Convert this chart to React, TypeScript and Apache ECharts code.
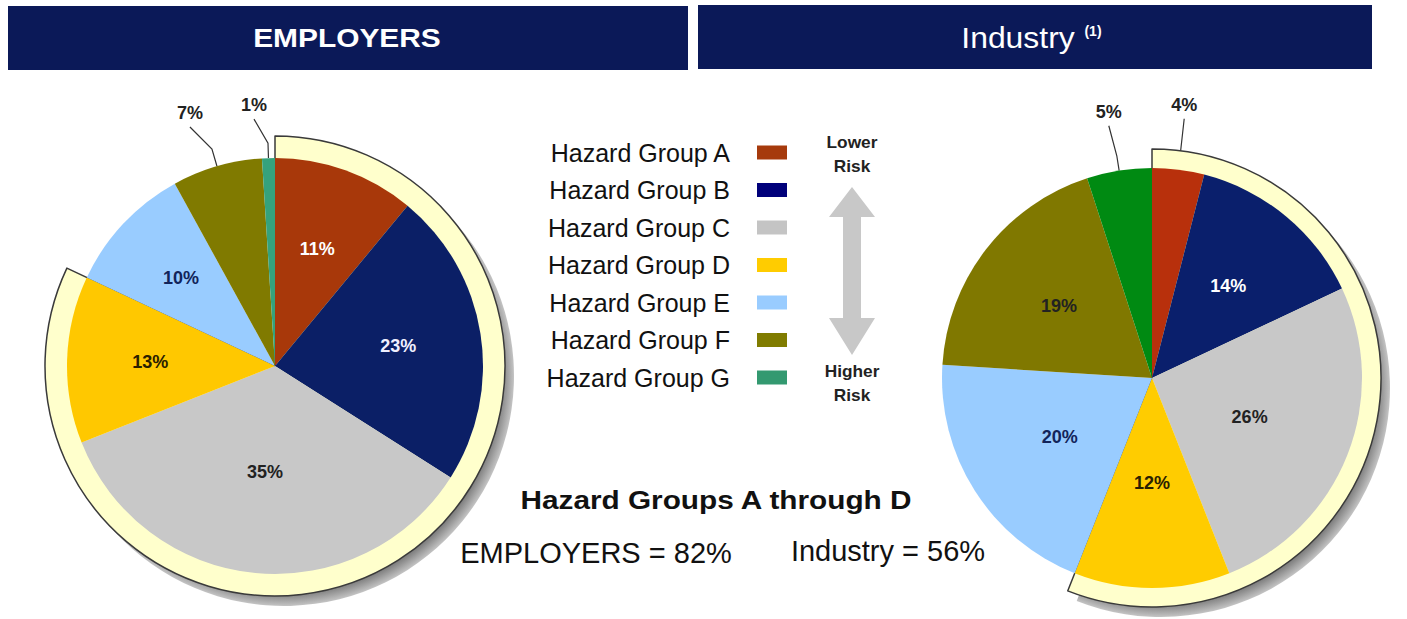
import React, { useEffect, useRef } from "react";
import * as echarts from "echarts";

// ---------- data ----------
const groupNames = [
  "Hazard Group A",
  "Hazard Group B",
  "Hazard Group C",
  "Hazard Group D",
  "Hazard Group E",
  "Hazard Group F",
  "Hazard Group G",
];
const employersValues = [11, 23, 35, 13, 10, 7, 1];
const industryValues = [4, 14, 26, 12, 20, 19, 5];
const highlightedCount = 4; // Hazard Groups A through D
const panelTitles = ["EMPLOYERS", "Industry"];
const footnoteMark = "(1)";
const riskTop = ["Lower", "Risk"];
const riskBottom = ["Higher", "Risk"];
const summaryTitle = "Hazard Groups A through D";

// ---------- styles ----------
const FONT = '"Liberation Sans", Arial, Helvetica, sans-serif';
const NAVY = "#0b1958";
const legendColors = ["#a63a0c", "#00007a", "#c4c4c4", "#ffcc00", "#99ccff", "#807c00", "#339970"];
const employersColors = ["#a8380a", "#0b1f66", "#c8c8c8", "#ffc800", "#99ccff", "#807a00", "#35a27c"];
const industryColors = ["#b8300c", "#0a1f6c", "#c8c8c8", "#ffcc00", "#99ccff", "#807800", "#008a12"];
const employersLabelColors = ["#ffffff", "#f0f0ff", "#222222", "#2a2000", "#12245a", "#222222", "#222222"];
const industryLabelColors = ["#222222", "#ffffff", "#222222", "#2a2000", "#12245a", "#222222", "#222222"];

type OutsideCfg = { length: number; length2: number; rise: number };
type PieLayout = {
  cx: number;
  cy: number;
  r: number;
  ringR: number;
  insideFactor: (number | null)[];
  outside: Record<number, OutsideCfg>;
};

const employersLayout: PieLayout = {
  cx: 275,
  cy: 366,
  r: 208,
  ringR: 230,
  insideFactor: [0.6, 0.6, 0.51, 0.6, 0.62, null, null],
  outside: {
    5: { length: 18, length2: 22, rise: 22 },
    6: { length: 15, length2: 14, rise: 24 },
  },
};
const industryLayout: PieLayout = {
  cx: 1152,
  cy: 378,
  r: 210,
  ringR: 229,
  insideFactor: [null, 0.57, 0.5, 0.5, 0.52, 0.56, null],
  outside: {
    0: { length: 15, length2: 4, rise: 36 },
    6: { length: 15, length2: 8, rise: 30 },
  },
};

const sum = (a: number[]) => a.reduce((s, v) => s + v, 0);

function buildPieSeries(values: number[], colors: string[], labelColors: string[], L: PieLayout) {
  const total = sum(values);
  const highlighted = sum(values.slice(0, highlightedCount));
  const mids: number[] = [];
  let acc = 0;
  values.forEach((v) => {
    mids.push(((acc + v / 2) / total) * 360);
    acc += v;
  });

  const shadow = {
    type: "pie",
    silent: true,
    center: [L.cx + 9, L.cy + 10],
    radius: L.ringR,
    startAngle: 90,
    clockwise: true,
    label: { show: false },
    labelLine: { show: false },
    emphasis: { disabled: true },
    itemStyle: { borderWidth: 0 },
    data: [
      {
        value: highlighted,
        itemStyle: {
          color: {
            type: "radial",
            x: L.cx + 9,
            y: L.cy + 10,
            r: L.ringR,
            global: true,
            colorStops: [
              { offset: 0.92, color: "#5e5e5e" },
              { offset: 1, color: "#c4c4c4" },
            ],
          },
        },
      },
      { value: total - highlighted, itemStyle: { color: "rgba(0,0,0,0)" } },
    ],
  };

  const ring = {
    type: "pie",
    silent: true,
    center: [L.cx, L.cy],
    radius: L.ringR,
    startAngle: 90,
    clockwise: true,
    label: { show: false },
    labelLine: { show: false },
    emphasis: { disabled: true },
    data: [
      { value: highlighted, itemStyle: { color: "#ffffcc", borderColor: "#3a3a3a", borderWidth: 1.5 } },
      { value: total - highlighted, itemStyle: { color: "rgba(0,0,0,0)", borderWidth: 0 } },
    ],
  };

  const labelLayout = (p: any) => {
    const i = p.dataIndex;
    const out = L.outside[i];
    if (out) {
      const pts = p.labelLinePoints;
      if (!pts || pts.length < 3) return {};
      const end = [pts[2][0], pts[2][1] - out.rise];
      return {
        x: end[0],
        y: end[1] - 5,
        align: "center",
        verticalAlign: "bottom",
        labelLinePoints: [pts[0], pts[1], end],
      };
    }
    const f = L.insideFactor[i] ?? 0.5;
    const a = (mids[i] * Math.PI) / 180;
    return {
      x: L.cx + f * L.r * Math.sin(a),
      y: L.cy - f * L.r * Math.cos(a),
      align: "center",
      verticalAlign: "middle",
    };
  };

  const main = {
    type: "pie",
    silent: true,
    center: [L.cx, L.cy],
    radius: L.r,
    startAngle: 90,
    clockwise: true,
    avoidLabelOverlap: false,
    emphasis: { disabled: true },
    itemStyle: { borderWidth: 0 },
    label: {
      show: true,
      position: "inside",
      formatter: "{c}%",
      fontFamily: FONT,
      fontWeight: "bold",
      fontSize: 18,
    },
    labelLine: { show: true, lineStyle: { color: "#333333", width: 1.2 } },
    labelLayout,
    data: values.map((v, i) => {
      const out = L.outside[i];
      return {
        name: groupNames[i],
        value: v,
        itemStyle: { color: colors[i] },
        label: out
          ? { position: "outside", color: "#222222" }
          : { position: "inside", color: labelColors[i] },
        labelLine: out ? { show: true, length: out.length, length2: out.length2 } : { show: false },
      };
    }),
  };

  return [shadow, ring, main];
}

function txt(text: string, x: number, y: number, font: string, fill: string, scaleX = 1, align = "center") {
  return {
    type: "text",
    x,
    y,
    scaleX,
    z: 10,
    silent: true,
    style: { text, font, fill, align, verticalAlign: "middle" },
  };
}

export default function App() {
  const ref = useRef<HTMLDivElement>(null);

  useEffect(() => {
    if (!ref.current) return;
    const chart = echarts.init(ref.current, null, { renderer: "svg" });

    const empTotal = sum(employersValues.slice(0, highlightedCount));
    const indTotal = sum(industryValues.slice(0, highlightedCount));

    const option: any = {
      animation: false,
      backgroundColor: "#ffffff",
      legend: {
        orient: "vertical",
        right: 1407 - 787,
        top: 140,
        padding: 0,
        align: "right",
        icon: "rect",
        itemWidth: 30,
        itemHeight: 14,
        itemGap: 12.5,
        selectedMode: false,
        textStyle: {
          fontFamily: FONT,
          fontSize: 25,
          color: "#111111",
          width: 190,
          padding: [0, 22, 0, 0],
        },
        data: groupNames.map((n, i) => ({ name: n, itemStyle: { color: legendColors[i] } })),
      },
      series: [
        ...buildPieSeries(employersValues, employersColors, employersLabelColors, employersLayout),
        ...buildPieSeries(industryValues, industryColors, industryLabelColors, industryLayout),
      ],
      graphic: [
        { type: "rect", silent: true, z: 5, shape: { x: 8, y: 6, width: 680, height: 64 }, style: { fill: NAVY } },
        { type: "rect", silent: true, z: 5, shape: { x: 698, y: 5, width: 674, height: 64 }, style: { fill: NAVY } },
        txt(panelTitles[0], 347, 38, `bold 26px ${FONT}`, "#ffffff", 1.15),
        txt(panelTitles[1], 1018, 38, `29px ${FONT}`, "#ffffff", 1.1),
        txt(footnoteMark, 1093, 31, `bold 14px ${FONT}`, "#ffffff", 1),
        // risk arrow
        {
          type: "polygon",
          silent: true,
          z: 4,
          shape: {
            points: [
              [852, 187],
              [875, 217],
              [861, 217],
              [861, 318],
              [875, 318],
              [852, 355],
              [829, 318],
              [843, 318],
              [843, 217],
              [829, 217],
            ],
          },
          style: { fill: "#c8c8c8" },
        },
        txt(riskTop[0], 852, 143, `bold 16px ${FONT}`, "#222222", 1.08),
        txt(riskTop[1], 852, 167, `bold 16px ${FONT}`, "#222222", 1.08),
        txt(riskBottom[0], 852, 372, `bold 16px ${FONT}`, "#222222", 1.08),
        txt(riskBottom[1], 852, 396, `bold 16px ${FONT}`, "#222222", 1.08),
        txt(summaryTitle, 716, 500, `bold 25px ${FONT}`, "#111111", 1.19),
        txt(`${panelTitles[0]} = ${empTotal}%`, 596, 553, `29px ${FONT}`, "#111111", 1),
        txt(`${panelTitles[1]} = ${indTotal}%`, 888, 551, `29px ${FONT}`, "#111111", 1),
      ],
    };

    chart.setOption(option);
    return () => chart.dispose();
  }, []);

  return (
    <div
      ref={ref}
      style={{ position: "absolute", left: 0, top: 0, width: 1407, height: 619, background: "#ffffff" }}
    />
  );
}
